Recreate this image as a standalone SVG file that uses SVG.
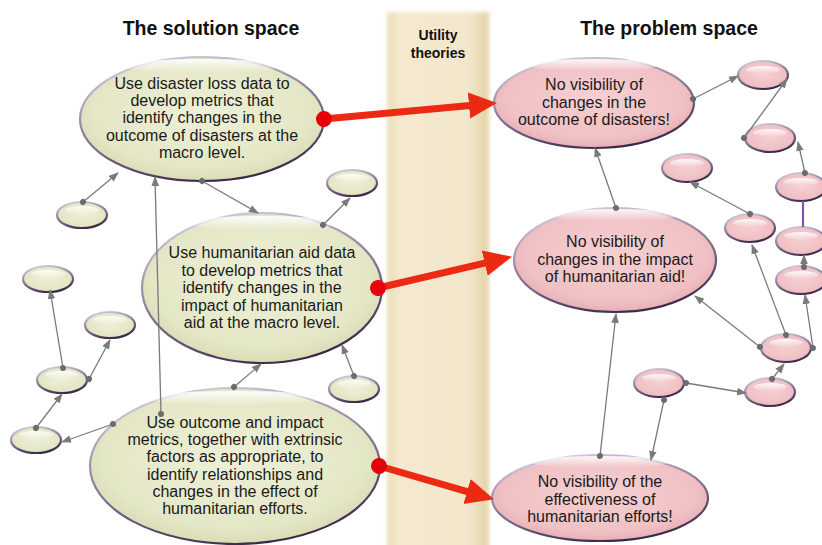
<svg xmlns="http://www.w3.org/2000/svg" width="822" height="545" viewBox="0 0 822 545">
<defs>
<linearGradient id="band" x1="0" y1="0" x2="1" y2="0">
<stop offset="0" stop-color="#eadbb6"/>
<stop offset="0.12" stop-color="#f4e9cf"/>
<stop offset="0.8" stop-color="#f3e7cb"/>
<stop offset="1" stop-color="#e3d1a3"/>
</linearGradient>
<radialGradient id="gfill" cx="0.5" cy="0.45" r="0.6">
<stop offset="0" stop-color="#eef0d8"/>
<stop offset="0.75" stop-color="#e4e7c5"/>
<stop offset="1" stop-color="#d3d6ac"/>
</radialGradient>
<radialGradient id="pfill" cx="0.5" cy="0.45" r="0.6">
<stop offset="0" stop-color="#f6d0d2"/>
<stop offset="0.75" stop-color="#f0c0c4"/>
<stop offset="1" stop-color="#e2a6ae"/>
</radialGradient>
<linearGradient id="rim" x1="0.2" y1="0" x2="0.6" y2="1">
<stop offset="0" stop-color="#d8d0e0"/>
<stop offset="0.5" stop-color="#8a7a9a"/>
<stop offset="1" stop-color="#3a2848"/>
</linearGradient>
<linearGradient id="hl" x1="0" y1="0" x2="0" y2="1">
<stop offset="0" stop-color="#ffffff" stop-opacity="0.9"/>
<stop offset="1" stop-color="#ffffff" stop-opacity="0"/>
</linearGradient>
<marker id="ga" viewBox="0 -4 10 8" refX="9" refY="0" markerWidth="10" markerHeight="8" markerUnits="userSpaceOnUse" orient="auto">
<path d="M0,-3.8 L10,0 L0,3.8 z" fill="#7a7a7a"/>
</marker>
<marker id="gd" viewBox="-4 -4 8 8" refX="0" refY="0" markerWidth="8" markerHeight="8" markerUnits="userSpaceOnUse" orient="auto">
<circle r="3" fill="#6c6c6c"/>
</marker>
<marker id="ra" viewBox="0 -14 30 28" refX="1" refY="0" markerWidth="30" markerHeight="28" markerUnits="userSpaceOnUse" orient="auto">
<path d="M0,-13 L28,0 L0,13 z" fill="#ec2a14"/>
</marker>
<marker id="rd" viewBox="-9 -9 18 18" refX="0" refY="0" markerWidth="18" markerHeight="18" markerUnits="userSpaceOnUse" orient="auto">
<circle r="8" fill="#e8000a"/>
</marker>
<filter id="soft" x="-0.1" y="-0.05" width="1.2" height="1.1"><feGaussianBlur stdDeviation="2"/></filter>
<style>
.title{font-family:"Liberation Sans",Arial,sans-serif;font-weight:bold;font-size:19.5px;fill:#111;text-anchor:middle}
.ut{font-family:"Liberation Sans",Arial,sans-serif;font-weight:bold;font-size:14px;fill:#111;text-anchor:middle}
.t{font-family:"Liberation Sans",Arial,sans-serif;font-size:16px;fill:#1a1a1a;text-anchor:middle}
.g{fill:url(#gfill);stroke:url(#rim);stroke-width:2.2}
.p{fill:url(#pfill);stroke:url(#rim);stroke-width:2.2}
.h{fill:url(#hl)}
.c{stroke:#7a7a7a;stroke-width:1.3;fill:none;marker-start:url(#gd);marker-end:url(#ga)}
.r{stroke:#ec2a14;stroke-width:7;fill:none;marker-start:url(#rd);marker-end:url(#ra)}
</style>
</defs>
<rect x="0" y="0" width="822" height="545" fill="#ffffff"/>
<g id="band-utility">
<rect x="387" y="12" width="102" height="540" fill="url(#band)" filter="url(#soft)"/>
<text class="ut" x="438" y="40">Utility</text>
<text class="ut" x="438" y="58">theories</text>
</g>
<g id="titles">
<text class="title" x="211" y="35">The solution space</text>
<text class="title" x="669" y="35">The problem space</text>
</g>
<g id="small-green">
<g id="s1"><ellipse class="g" cx="82" cy="215" rx="25" ry="13"/><ellipse class="h" cx="82" cy="210" rx="17" ry="4"/></g>
<g id="s2"><ellipse class="g" cx="48" cy="279" rx="25" ry="13"/><ellipse class="h" cx="48" cy="274" rx="17" ry="4"/></g>
<g id="s3"><ellipse class="g" cx="110" cy="325" rx="25" ry="13"/><ellipse class="h" cx="110" cy="320" rx="17" ry="4"/></g>
<g id="s4"><ellipse class="g" cx="62" cy="380" rx="25" ry="13"/><ellipse class="h" cx="62" cy="375" rx="17" ry="4"/></g>
<g id="s5"><ellipse class="g" cx="36" cy="440" rx="25" ry="13"/><ellipse class="h" cx="36" cy="435" rx="17" ry="4"/></g>
<g id="s6"><ellipse class="g" cx="352" cy="183" rx="25" ry="13"/><ellipse class="h" cx="352" cy="178" rx="17" ry="4"/></g>
<g id="s7"><ellipse class="g" cx="354" cy="389" rx="25" ry="13"/><ellipse class="h" cx="354" cy="384" rx="17" ry="4"/></g>
</g>
<g id="small-pink">
<g id="q1"><ellipse class="p" cx="763" cy="75" rx="25" ry="14"/><ellipse class="h" cx="763" cy="70" rx="17" ry="4"/></g>
<g id="q2"><ellipse class="p" cx="770" cy="138" rx="25" ry="14"/><ellipse class="h" cx="770" cy="133" rx="17" ry="4"/></g>
<g id="q3"><ellipse class="p" cx="687" cy="168" rx="25" ry="14"/><ellipse class="h" cx="687" cy="163" rx="17" ry="4"/></g>
<g id="q4"><ellipse class="p" cx="801" cy="187" rx="25" ry="14"/><ellipse class="h" cx="801" cy="182" rx="17" ry="4"/></g>
<g id="q5"><ellipse class="p" cx="750" cy="228" rx="25" ry="14"/><ellipse class="h" cx="750" cy="223" rx="17" ry="4"/></g>
<g id="q6"><ellipse class="p" cx="801" cy="241" rx="25" ry="14"/><ellipse class="h" cx="801" cy="236" rx="17" ry="4"/></g>
<g id="q7"><ellipse class="p" cx="801" cy="280" rx="25" ry="14"/><ellipse class="h" cx="801" cy="275" rx="17" ry="4"/></g>
<g id="q8"><ellipse class="p" cx="786" cy="348" rx="25" ry="14"/><ellipse class="h" cx="786" cy="343" rx="17" ry="4"/></g>
<g id="q9"><ellipse class="p" cx="659" cy="383" rx="25" ry="14"/><ellipse class="h" cx="659" cy="378" rx="17" ry="4"/></g>
<g id="q10"><ellipse class="p" cx="770" cy="392" rx="25" ry="14"/><ellipse class="h" cx="770" cy="387" rx="17" ry="4"/></g>
</g>
<g id="g1">
<ellipse class="g" cx="202" cy="119" rx="122" ry="62"/>
<ellipse class="h" cx="202" cy="66" rx="80" ry="7"/>
<text class="t" x="202" y="89">Use disaster loss data to</text>
<text class="t" x="202" y="106">develop metrics that</text>
<text class="t" x="202" y="123">identify changes in the</text>
<text class="t" x="202" y="141">outcome of disasters at the</text>
<text class="t" x="202" y="158">macro level.</text>
</g>
<g id="g2">
<ellipse class="g" cx="262" cy="288" rx="120" ry="75"/>
<ellipse class="h" cx="262" cy="223" rx="75" ry="7"/>
<text class="t" x="262" y="258">Use humanitarian aid data</text>
<text class="t" x="262" y="276">to develop metrics that</text>
<text class="t" x="262" y="293">identify changes in the</text>
<text class="t" x="262" y="311">impact of humanitarian</text>
<text class="t" x="262" y="328">aid at the macro level.</text>
</g>
<g id="g3">
<ellipse class="g" cx="235" cy="466" rx="145" ry="78"/>
<ellipse class="h" cx="235" cy="398" rx="90" ry="7"/>
<text class="t" x="235" y="428">Use outcome and impact</text>
<text class="t" x="235" y="445">metrics, together with extrinsic</text>
<text class="t" x="235" y="462">factors as appropriate, to</text>
<text class="t" x="235" y="480">identify relationships and</text>
<text class="t" x="235" y="497">changes in the effect of</text>
<text class="t" x="235" y="514">humanitarian efforts.</text>
</g>
<g id="p1">
<ellipse class="p" cx="594" cy="103" rx="100" ry="45"/>
<ellipse class="h" cx="594" cy="65" rx="65" ry="6"/>
<text class="t" x="594" y="90">No visibility of</text>
<text class="t" x="594" y="108">changes in the</text>
<text class="t" x="594" y="125">outcome of disasters!</text>
</g>
<g id="p2">
<ellipse class="p" cx="615" cy="260" rx="101" ry="52"/>
<ellipse class="h" cx="615" cy="215" rx="65" ry="6"/>
<text class="t" x="615" y="247">No visibility of</text>
<text class="t" x="615" y="265">changes in the impact</text>
<text class="t" x="615" y="282">of humanitarian aid!</text>
</g>
<g id="p3">
<ellipse class="p" cx="600" cy="498" rx="108" ry="43"/>
<ellipse class="h" cx="600" cy="462" rx="70" ry="6"/>
<text class="t" x="600" y="487">No visibility of the</text>
<text class="t" x="600" y="505">effectiveness of</text>
<text class="t" x="600" y="522">humanitarian efforts!</text>
</g>
<g id="connectors">
<line x1="803" y1="201" x2="803" y2="227" stroke="#7a5aa8" stroke-width="2.2"/>
<path class="c" d="M83,202 L118,173"/>
<path class="c" d="M202,181 L258,213"/>
<path class="c" d="M323,225 L350,198"/>
<path class="c" d="M161,414 L155,177"/>
<path class="c" d="M234,387 L261,364"/>
<path class="c" d="M354,376 L342,345"/>
<path class="c" d="M113,424 L62,442"/>
<path class="c" d="M36,428 L62,394"/>
<path class="c" d="M63,368 L50,290"/>
<path class="c" d="M89,379 L110,340"/>
<path class="c" d="M693,99 L738,76"/>
<path class="c" d="M744,138 L787,79"/>
<path class="c" d="M805,173 L798,142"/>
<path class="c" d="M750,214 L690,182"/>
<path class="c" d="M616,208 L595,148"/>
<path class="c" d="M760,347 L695,296"/>
<path class="c" d="M786,335 L752,245"/>
<path class="c" d="M813,348 L805,295"/>
<path class="c" d="M804,267 L804,255"/>
<path class="c" d="M772,379 L784,364"/>
<path class="c" d="M686,383 L746,393"/>
<path class="c" d="M664,400 L651,460"/>
<path class="c" d="M600,456 L616,314"/>
<path class="r" d="M324,119 L470,105.4"/>
<path class="r" d="M378,288 L485.7,262.9"/>
<path class="r" d="M379,466 L468,491.8"/>
</g>
</svg>
